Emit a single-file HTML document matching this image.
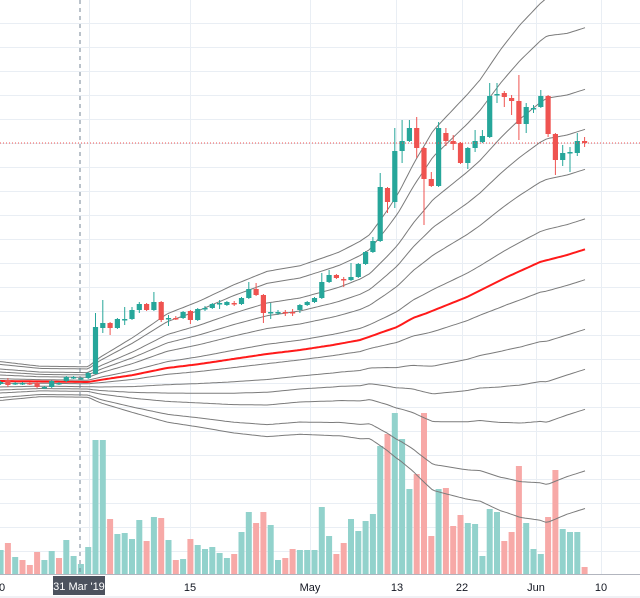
<!DOCTYPE html>
<html><head><meta charset="utf-8"><style>
html,body{margin:0;padding:0;background:#fff;}
svg{display:block;font-family:"Liberation Sans",sans-serif;}
</style></head><body>
<svg id="c" width="640" height="598" viewBox="0 0 640 598" xmlns="http://www.w3.org/2000/svg">
<g id="grid"></g>
<g id="vol"></g>
<g id="lines"></g>
<g id="candles"></g>
<line x1="0" y1="143" x2="640" y2="143" stroke="#ef5350" stroke-width="1" stroke-dasharray="1 2"/>
<line x1="80" y1="0" x2="80" y2="574" stroke="#758696" stroke-width="1" stroke-dasharray="4 4"/>
<line x1="0" y1="574.5" x2="640" y2="574.5" stroke="#b2b5be" stroke-width="1"/>
<line x1="0" y1="597" x2="640" y2="597" stroke="#e0e3eb" stroke-width="1"/>
<g font-size="11" fill="#131722" text-anchor="middle">
<text x="2" y="591">0</text>
<text x="190" y="591">15</text>
<text x="310" y="591">May</text>
<text x="397" y="591">13</text>
<text x="462" y="591">22</text>
<text x="536" y="591">Jun</text>
<text x="601" y="591">10</text>
</g>
<rect x="53" y="576" width="52" height="19" fill="#4c525e"/>
<text x="79" y="590" font-size="11" fill="#fff" text-anchor="middle">31 Mar '19</text>
</svg>
<script>
var NS="http://www.w3.org/2000/svg";
function el(p,t,a){var e=document.createElementNS(NS,t);for(var k in a)e.setAttribute(k,a[k]);p.appendChild(e);return e;}
var g=document.getElementById('grid');
for(var y=23;y<=551;y+=24)el(g,'line',{x1:0,x2:640,y1:y+.5,y2:y+.5,stroke:'#e9eef4','stroke-width':1});
[89,190,310,396,462,536,601].forEach(function(x){el(g,'line',{x1:x+.5,x2:x+.5,y1:0,y2:574,stroke:'#e9eef4','stroke-width':1});});
function interp(pts,x){if(x<=pts[0][0])return pts[0][1];for(var i=1;i<pts.length;i++){if(x<=pts[i][0]){var a=pts[i-1],b=pts[i];return a[1]+(b[1]-a[1])*(x-a[0])/(b[0]-a[0]);}}return pts[pts.length-1][1];}
var sig=[[0,6],[40,4.7],[88,4.7],[100,7],[133,11.6],[167,16.7],[200,19.5],[233,22.8],[267,25.5],[300,26],[340,28.4],[370,31.5],[387,37],[400,41.7],[417,49],[433,55.5],[460,61],[480,65],[500,71],[520,76],[547,81],[567,80],[586,80]];
var red=[[0,381],[88,382],[100,380],[133,375],[167,368],[200,364],[233,359],[267,354],[300,350],[333,345],[360,340],[380,333],[397,327],[413,318],[427,313],[447,305],[467,297],[487,287],[507,277],[540,262],[567,255],[586,249]];
var L=document.getElementById('lines');
var fs=[0.38,1,1.5,2,2.77,3.24];
function line(f,col,w){var d='';for(var x=0;x<=586;x+=3){var xx=Math.min(x,586);var yy=interp(red,xx)+f*interp(sig,xx);d+=(d?'L':'M')+xx+' '+yy.toFixed(1);}
 el(L,'path',{d:d,fill:'none',stroke:col,'stroke-width':w,'stroke-linejoin':'round'});}
fs.forEach(function(f){line(f,'#7b7b7b',1);line(-f,'#7b7b7b',1);});
line(0,'#ff1a1a',2);
var C=[
[382,384,381,385,'g'],[380,385,378,387,'r'],[383,384,382,385,'g'],[383,384,382,385,'g'],[383,384,382,385,'r'],[383,387,382,388,'r'],
[387,388,386,389,'g'],[381,387,380,388,'g'],[383,384,382,385,'g'],[377,381,376,382,'g'],[377,378,376,379,'g'],[378,379,377,380,'g'],
[373,378,372,379,'g'],[327,374,313,374,'g'],[323,328,300,333,'g'],[323,328,322,335,'r'],[319,328,318,329,'g'],[319,320,307,325,'g'],
[310,319,307,320,'g'],[304,310,302,313,'g'],[304,310,303,311,'r'],[302,310,292,311,'g'],[302,320,301,322,'r'],[318,319,315,326,'g'],
[318,319,316,320,'r'],[312,318,311,319,'g'],[311,320,310,324,'r'],[309,320,308,321,'g'],[308,309,306,311,'g'],[304,308,303,309,'g'],
[303,304,300,309,'g'],[302,305,301,306,'g'],[303,304,301,306,'r'],[298,304,297,305,'g'],[289,298,282,299,'g'],[289,295,283,296,'r'],
[295,313,294,323,'r'],[312,313,303,319,'g'],[312,313,310,315,'g'],[312,313,310,316,'r'],[312,313,309,316,'r'],[305,310,304,313,'g'],
[302,305,301,306,'g'],[298,302,297,303,'g'],[282,298,273,299,'g'],[275,282,270,283,'g'],[275,278,274,279,'r'],[279,280,277,287,'r'],
[277,280,263,281,'g'],[264,277,263,278,'g'],[252,264,251,265,'g'],[241,252,237,253,'g'],[187,241,173,242,'g'],[188,202,187,213,'r'],
[151,202,128,208,'g'],[141,151,120,163,'g'],[128,141,120,142,'g'],[128,148,117,158,'r'],[148,179,147,225,'r'],[179,186,172,187,'r'],
[128,186,122,187,'g'],[133,141,128,146,'r'],[141,144,135,150,'r'],[143,163,142,164,'r'],[148,163,147,169,'g'],[141,148,130,152,'g'],
[136,142,130,143,'g'],[96,137,83,138,'g'],[94,95,83,103,'g'],[93,97,91,107,'r'],[98,101,95,115,'r'],[101,124,75,140,'r'],
[107,124,103,133,'g'],[108,109,105,113,'g'],[96,107,90,108,'g'],[96,134,95,137,'r'],[134,160,133,175,'r'],[153,160,145,166,'g'],
[152,153,147,172,'g'],[141,153,133,156,'g'],[141,143,137,147,'r']];
var V=[[550,'g'],[543,'r'],[557,'g'],[560,'r'],[565,'r'],[552,'r'],[560,'g'],[551,'g'],[558,'r'],[540,'g'],[556,'g'],[564,'g'],[547,'g'],[440,'g'],[440,'g'],[519,'r'],[534,'g'],[533,'g'],[539,'g'],[520,'g'],[541,'r'],[517,'g'],[518,'r'],[540,'g'],[560,'r'],[559,'g'],[539,'r'],[545,'g'],[549,'g'],[547,'g'],[553,'g'],[558,'g'],[554,'r'],[532,'g'],[512,'g'],[523,'r'],[512,'r'],[525,'g'],[560,'g'],[558,'r'],[549,'r'],[550,'g'],[550,'g'],[550,'g'],[507,'g'],[536,'g'],[554,'r'],[543,'r'],[519,'g'],[531,'g'],[521,'g'],[514,'g'],[446,'g'],[434,'r'],[413,'g'],[439,'g'],[489,'g'],[474,'r'],[413,'r'],[536,'r'],[489,'g'],[488,'r'],[526,'r'],[515,'r'],[523,'g'],[524,'g'],[556,'g'],[509,'g'],[512,'g'],[541,'r'],[532,'r'],[466,'r'],[523,'g'],[549,'g'],[554,'g'],[517,'r'],[470,'r'],[529,'g'],[532,'g'],[532,'g'],[567,'r']];
var VG=document.getElementById('vol'),CG=document.getElementById('candles');
function X(i){return 0.6+7.3*i;}
V.forEach(function(v,i){var x=X(i);el(VG,'rect',{x:(x-3).toFixed(1),y:v[0],width:6,height:574-v[0],fill:v[1]=='g'?'#92d2cc':'#f7a9a7'});});
C.forEach(function(c,i){var x=X(i);var col=c[4]=='g'?'#26a69a':'#ef5350';
 el(CG,'line',{x1:x,x2:x,y1:c[2],y2:c[3],stroke:col,'stroke-width':1});
 var h=Math.max(1.5,c[1]-c[0]);el(CG,'rect',{x:(x-2.6).toFixed(1),y:c[0],width:5.2,height:h,fill:col});});
</script>
</body></html>
